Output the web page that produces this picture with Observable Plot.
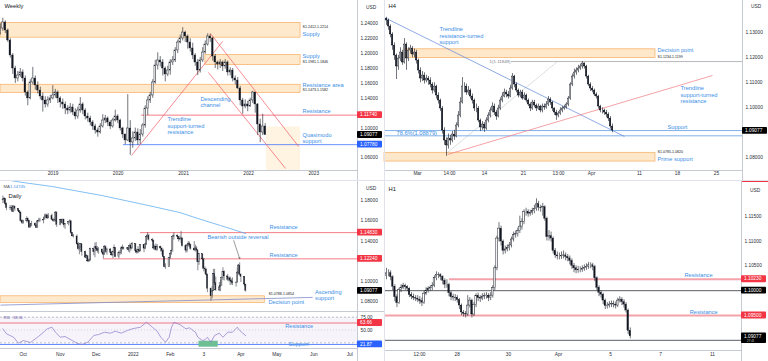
<!DOCTYPE html>
<html><head><meta charset="utf-8">
<script src="https://cdn.jsdelivr.net/npm/d3@7"></script>
<script src="https://cdn.jsdelivr.net/npm/@observablehq/plot@0.6"></script>
<style>
html,body{margin:0;padding:0;background:#fff;}
#root{position:relative;width:768px;height:361px;overflow:hidden;background:#fff;font-family:'Liberation Sans',Arial,sans-serif;}
.pane{position:absolute;overflow:visible;}
.pane svg{display:block;overflow:visible;max-width:none;}
.sep{position:absolute;background:#e0e3eb;}
</style></head><body><div id="root"></div>
<script>
// ================= DATA (prices in pips: 12345 = 1.2345) =================
// ---- Weekly (two-week candles) ----
const wStart = "2018-03-12", wStepDays = 14, wOpen0 = 12290;
const wClose = [12337,12418,12310,12176,11975,11800,11666,11706,11747,11666,
 11478,11398,11612,11666,11572,11505,11424,11371,11317,11371,
 11398,11438,11478,11398,11344,11317,11263,11236,11277,11210,
 11156,11236,11317,11236,11156,11129,11075,11022,10968,10941,
 11022,11102,11129,11075,11022,11102,11156,11102,10995,10914,
 10834,10995,10807,10861,10941,10834,10914,11035,11263,11371,
 11438,11612,11840,11908,11881,11800,11720,11773,11881,11908,
 12042,12149,12203,12283,12230,12149,12069,11975,11881,11773,
 11908,12015,12122,12230,12203,11961,11881,11854,11881,11827,
 11881,11747,11773,11666,11639,11532,11371,11290,11317,11290,
 11371,11478,11317,11049,10941,11022,10908];
const wHigh = [12400,12475,12440,12330,12200,12000,11830,11760,11800,11780,
 11700,11500,11650,11815,11700,11620,11550,11470,11420,11420,
 11440,11570,11520,11500,11420,11390,11350,11300,11330,11320,
 11260,11280,11410,11340,11260,11200,11160,11100,11050,11000,
 11060,11180,11170,11150,11100,11130,11240,11180,11120,11010,
 10920,11450,11100,10950,11000,10990,10980,11060,11300,11420,
 11480,11650,11910,12011,11960,11920,11820,11830,11920,11960,
 12080,12180,12250,12349,12300,12250,12200,12140,12000,11920,
 11950,12080,12170,12266,12260,12220,11990,11900,11920,11900,
 11920,11900,11810,11800,11700,11680,11560,11400,11380,11360,
 11400,11495,11480,11330,11120,11185,11060];
const wLow = [12250,12300,12270,12150,11940,11720,11600,11620,11680,11620,
 11430,11300,11380,11580,11510,11460,11380,11215,11270,11280,
 11330,11380,11400,11330,11270,11250,11180,11180,11200,11170,
 11110,11120,11200,11180,11110,11080,11030,10970,10920,10879,
 10920,11000,11060,11020,10980,11000,11080,11060,10960,10860,
 10778,10820,10636,10730,10820,10770,10780,10880,11000,11170,
 11330,11400,11590,11780,11820,11700,11620,11690,11710,11840,
 11880,12000,12130,12170,12150,12060,12020,11920,11830,11704,
 11740,11880,11990,12100,12150,11900,11800,11780,11800,11760,
 11790,11700,11700,11620,11580,11520,11300,11186,11260,11220,
 11280,11330,11200,10900,10806,10900,10900];
const wYearTicks = ["2019-01-01","2020-01-01","2021-01-01","2022-01-01","2023-01-01"];
const wPriceTicks = [1.06,1.10,1.14,1.16,1.18,1.20,1.22,1.24];
const wZones = [
 {d1:"2018-03-13", d2:"2022-10-19", lo:1.2214, hi:1.2412},
 {d1:"2021-05-04", d2:"2022-10-19", lo:1.1846, hi:1.1981},
 {d1:"2018-03-13", d2:"2022-10-19", lo:1.1473, hi:1.1582}];
const wProj = [{d1:"2022-04-11", d2:"2022-10-19", lo:1.0431, hi:1.1015}];
const wResist = [{d1:"2020-05-11", v:1.1174}];
const wSupport = [{d1:"2020-01-31", v:1.0778}];
const wTrend = [
 {d1:"2021-06-01", v1:1.2270, d2:"2022-10-08", v2:1.0753},
 {d1:"2021-05-21", v1:1.1747, d2:"2022-07-27", v2:1.0458},
 {d1:"2020-03-16", v1:1.0632, d2:"2021-08-08", v2:1.2163}];
const wLabels = [
 {d:"2022-10-30", v:1.2270, t:"Supply"},
 {d:"2022-10-30", v:1.1975, t:"Supply"},
 {d:"2022-10-30", v:1.1585, t:"Resistance area"},
 {d:"2022-10-30", v:1.1230, t:"Resistance"},
 {d:"2022-10-30", v:1.0864, t:"Quasimodo\nsupport"},
 {d:"2021-04-06", v:1.1354, t:"Descending\nchannel"},
 {d:"2020-10-03", v:1.1035, t:"Trendline\nsupport-turned\nresistance"}];
const wRanges = [
 {d:"2022-10-30", v:1.2364, t:"S1.2412-1.2214"},
 {d:"2022-10-30", v:1.1894, t:"S1.1981-1.1846"},
 {d:"2022-10-30", v:1.1512, t:"S1.1473-1.1582"}];
const wTags = [{v:1.1174, bg:"#f23645", t:"1.11740"},{v:1.09077, bg:"#000", t:"1.09077"},{v:1.0778, bg:"#2962ff", t:"1.07780"}];

// ---- H4 (candle index) ----
const h4Open0 = 11357;
const h4Close = [11349,11325,11293,11249,11209,11165,11197,11221,11181,11253,
 11197,11229,11237,11213,11221,11189,11149,11117,11129,11109,
 11117,11109,11093,11069,11085,11049,11029,10997,10909,10869,
 10849,10877,10869,10893,10885,10929,10969,11021,11085,11085,
 11061,11069,11045,11029,10997,10997,10949,10921,10933,10917,
 10949,10969,10989,11005,10981,10965,10997,11029,11045,11061,
 11053,11045,11077,11125,11093,11069,11049,11061,11037,11049,
 11029,11013,10997,11021,11009,10997,11005,10989,11005,11001,
 11013,11033,11021,10997,10981,10969,10977,10989,10997,11001,
 11013,11037,11093,11125,11141,11149,11157,11165,11177,11165,
 11125,11093,11077,11069,11053,11045,11005,10989,10989,10981,
 10973,10957,10925,10909];
const h4High = [11362,11355,11332,11300,11260,11215,11210,11240,11230,11277,
 11260,11240,11250,11245,11235,11230,11195,11160,11145,11140,
 11130,11125,11120,11100,11100,11090,11060,11035,11005,10920,
 10880,10895,10890,10905,10910,10940,10985,11040,11121,11100,
 11095,11085,11075,11055,11035,11015,11005,10955,10945,10940,
 10960,10980,11000,11020,11015,10990,11010,11040,11060,11075,
 11070,11065,11090,11137,11130,11100,11075,11070,11070,11060,
 11055,11035,11020,11030,11030,11015,11015,11010,11015,11015,
 11025,11045,11040,11025,11000,10990,10985,11000,11005,11010,
 11020,11045,11100,11135,11155,11160,11170,11175,11185,11180,
 11170,11130,11100,11085,11075,11060,11050,11010,11000,10995,
 10990,10980,10965,10935];
const h4Low = [11330,11310,11280,11230,11190,11113,11150,11185,11170,11175,
 11150,11185,11215,11200,11200,11175,11135,11100,11105,11095,
 11100,11090,11080,11055,11060,11035,11015,10985,10895,10850,
 10806,10835,10850,10860,10870,10880,10920,10960,11015,11060,
 11050,11050,11035,11015,10985,10980,10940,10905,10910,10902,
 10910,10940,10960,10980,10970,10950,10960,10990,11020,11040,
 11040,11035,11040,11070,11080,11060,11040,11040,11030,11030,
 11020,11005,10985,10990,11000,10985,10990,10980,10980,10990,
 10995,11005,11010,10985,10970,10950,10960,10970,10980,10990,
 10995,11005,11030,11085,11115,11130,11140,11150,11155,11155,
 11115,11085,11065,11060,11045,11035,10995,10980,10975,10970,
 10960,10945,10915,10900];
const h4TickPos = [15.5,31.5,49,68.5,86,102.5,126.5,145.5,165];
const h4TickLab = ["Mar","14:00","14","21","13:00","Apr","11","18","25"];
const h4PriceTicks = [1.08,1.10,1.11,1.12,1.13];
const h4Zones = [{i1:9, i2:134.5, lo:1.1199, hi:1.1234},{i1:-1, i2:134.5, lo:1.0785, hi:1.0820}];
const h4Fib1 = [{i1:62.5, v:1.11849}];
const h4BlueLevels = [1.0909, 1.08879];
const h4Dotted = [{i1:30.5, v1:1.08212, i2:85.5, v2:1.11852}];
const h4BlueTrend = [{i1:0, v1:1.13572, i2:119, v2:1.08852}];
const h4RedTrend = [{i1:30.5, v1:1.08132, i2:163, v2:1.11292}];
const h4Labels = [
 {i:26.5, v:1.12884, t:"Trendline\nresistance-turned\nsupport"},
 {i:135.5, v:1.12332, t:"Decision point"},
 {i:147, v:1.10524, t:"Trendline\nsupport-turned\nresistance"},
 {i:140.5, v:1.09252, t:"Support"},
 {i:5, v:1.0899, t:"78.6%(1.08879)"},
 {i:135.5, v:1.07972, t:"Prime support"}];
const h4Ranges = [{i:135.5, v:1.12052, t:"S1.1234-1.1199"},{i:135.5, v:1.08252, t:"S1.0785-1.0820"}];
const h4FibLabel = [{i:62, v:1.11849, t:"1(1.11849)"}];
const h4Tags = [{v:1.09077, bg:"#000", t:"1.09077"}];

// ---- Daily ----
const dStart = "2021-09-14", dOpen0 = 11810;
const dClose = [11805,11815,11764,11725,11727,11725,11689,11740,11720,11695,11683,11597,11579,
 11595,11620,11598,11532,11553,11570,11552,11528,11594,11597,11603,11608,11632,11653,11623,11644,11609,11598,11604,11681,11558,
 11607,11580,11612,11556,11567,11587,11594,11479,11446,11445,11368,11319,11319,11370,11289,11236,11250,11198,11208,11320,11290,11338,
 11320,11303,11316,11286,11266,11345,11291,11317,11285,11258,11290,11330,11240,11280,11282,11327,11330,11322,11328,11310,11350,11325,11370,
 11299,11286,11314,11297,11359,11325,11367,11440,11454,11412,11404,11326,11344,11313,11344,11326,11302,11242,11143,11146,11234,
 11272,11302,11440,11454,11441,11416,11422,11426,11349,11305,11356,11374,11362,11321,11307,11327,11310,11190,11270,11219,
 11126,11119,11066,10929,10855,10903,11073,10985,10912,10942,10956,11037,11093,11051,11016,11031,11008,10996,10983,10985,11088,11158,11066,
 11046,10970,10908];
const dHigh = [11845,11830,11820,11775,11750,11750,11750,11750,11745,11715,11700,11685,11610,
 11605,11640,11625,11605,11570,11595,11580,11565,11600,11625,11625,11625,11665,11665,11665,11670,11665,11625,11610,11690,11690,
 11615,11610,11615,11615,11570,11595,11610,11600,11485,11465,11460,11385,11350,11375,11370,11300,11265,11255,11225,11330,11320,11380,
 11385,11345,11335,11320,11300,11355,11350,11330,11325,11295,11300,11360,11335,11300,11305,11345,11360,11340,11335,11340,11370,11370,11385,
 11375,11320,11345,11320,11365,11365,11370,11450,11482,11465,11425,11410,11360,11370,11365,11350,11330,11320,11245,11175,11240,
 11285,11310,11455,11480,11460,11445,11450,11495,11430,11365,11365,11395,11390,11370,11395,11360,11345,11310,11275,11270,
 11230,11145,11125,11075,10935,10950,11120,11121,11045,10990,11010,11045,11137,11105,11070,11045,11045,11025,11035,11000,11137,11170,11185,
 11075,11050,10975];
const dLow = [11770,11775,11750,11700,11700,11705,11685,11680,11695,11680,11670,11590,11565,
 11565,11580,11580,11530,11530,11540,11545,11525,11525,11580,11585,11570,11605,11620,11615,11620,11600,11585,11585,11590,11535,
 11550,11570,11570,11530,11515,11550,11570,11465,11440,11430,11355,11305,11265,11310,11250,11225,11225,11186,11190,11200,11255,11235,
 11300,11280,11270,11270,11225,11260,11280,11260,11270,11250,11225,11275,11235,11225,11260,11265,11310,11310,11305,11290,11280,11300,11320,
 11280,11270,11275,11285,11295,11285,11315,11355,11430,11400,11385,11310,11305,11300,11300,11290,11260,11235,11135,11121,11140,
 11220,11260,11290,11410,11420,11390,11405,11375,11340,11280,11285,11340,11340,11310,11300,11290,11300,11106,11160,11125,
 11095,11070,11055,10890,10806,10830,10900,10960,10905,10900,10900,10950,11010,11005,11000,10995,10960,10965,10960,10945,10985,11075,11060,
 10990,10950,10895];
const maDates = ["2021-09-12","2021-09-29","2021-10-25","2021-12-06","2022-01-14","2022-02-09","2022-02-25","2022-03-15","2022-04-05"];
const maVals = [1.2014,1.1981,1.1939,1.1849,1.1750,1.1681,1.1619,1.1553,1.14745];
const dMonthTicks = ["2021-10-01","2021-11-01","2021-12-01","2022-01-01","2022-02-01","2022-03-01","2022-04-01","2022-05-01","2022-06-01","2022-07-01"];
const dMonthLabels = ["Oct","Nov","Dec","2022","Feb","3","Apr","May","Jun","Jul"];
const dPriceTicks = [1.08,1.10,1.14,1.16,1.18];
const dResist = [{d1:"2022-01-07", v:1.1483},{d1:"2021-12-07", v:1.1224}];
const dZone = [{d1:"2021-09-12", d2:"2022-04-21", lo:1.0788, hi:1.0854}];
const dAsc = [{d1:"2021-09-12", v1:1.0767, d2:"2022-05-31", v2:1.0843}];
const dArrow = [{d1:"2022-03-26", v1:1.1404, d2:"2022-03-31", v2:1.1226}];
const dLabels = [
 {d:"2022-04-25", v:1.1536, t:"Resistance"},
 {d:"2022-04-25", v:1.1265, t:"Resistance"},
 {d:"2022-03-04", v:1.1437, t:"Bearish outside reversal"},
 {d:"2022-04-24", v:1.0803, t:"Decision point"},
 {d:"2022-06-02", v:1.0867, t:"Ascending\nsupport"}];
const dRanges = [{d:"2022-04-24", v:1.0879, t:"S1.0788-1.0854"}];
const dTags = [{v:1.1483, bg:"#f23645", t:"1.14830"},{v:1.1224, bg:"#f23645", t:"1.12240"},{v:1.09077, bg:"#000", t:"1.09077"}];
// RSI
const rsiDates = ["2021-09-14","2021-09-17","2021-09-23","2021-09-27","2021-10-01","2021-10-07","2021-10-13","2021-10-18","2021-10-21","2021-10-25",
 "2021-10-28","2021-11-01","2021-11-05","2021-11-11","2021-11-15","2021-11-19","2021-11-24","2021-11-29","2021-12-03","2021-12-08",
 "2021-12-13","2021-12-17","2021-12-22","2021-12-27","2021-12-31","2022-01-07","2022-01-12","2022-01-17","2022-01-21","2022-01-24",
 "2022-01-28","2022-01-31","2022-02-02","2022-02-04","2022-02-09","2022-02-14","2022-02-17","2022-02-22","2022-02-24","2022-02-28",
 "2022-03-02","2022-03-04","2022-03-07","2022-03-10","2022-03-14","2022-03-17","2022-03-21","2022-03-25","2022-03-29","2022-03-31","2022-04-05"];
const rsiVals = [52.3,42.6,35.9,24.2,29.5,25.6,35.9,45.7,52.3,55.5,
 45.7,35.9,37.3,29.5,24.2,21.7,26.2,39.3,41.2,45.7,
 43.8,47.7,43.8,49.0,52.3,55.5,65.2,55.5,47.7,35.9,
 26.2,35.9,55.5,65.2,60.7,52.3,54.3,45.7,35.9,29.5,
 30.9,35.9,26.2,39.3,43.8,35.9,45.7,45.7,55.5,49.0,38.96];
const rsiRes = 63.66, rsiSup = 21.87;
const rsiBox = [{d1:"2022-02-25", d2:"2022-03-13", lo:16.4, hi:28.1}];
const rsiLabels = [{d:"2022-05-08", v:58.8, t:"Resistance"},{d:"2022-05-11", v:23.0, t:"Support"}];
const rsiTicks = [50, 75];
const rsiTags = [{v:63.66, bg:"#f23645", t:"63.66"},{v:21.87, bg:"#2962ff", t:"21.87"}];

// ---- H1 (two-hour steps) ----
const h1Open0 = 11030;
const h1Close = [11035,11035,11027,11008,10987,10975,11001,11006,11009,11007,
 11004,10991,10988,10985,10984,10982,10979,10976,10994,11000,
 11003,11005,11010,11025,11032,11031,11028,11020,11012,11012,
 10995,10987,10986,10985,10981,10970,10956,10953,10952,10970,
 10980,10952,10971,10989,10985,10984,10988,10989,10990,10985,
 10990,11005,11045,11105,11125,11099,11080,11083,11086,11091,
 11103,11112,11114,11120,11129,11138,11158,11158,11155,11157,
 11160,11165,11174,11167,11166,11168,11145,11108,11110,11105,
 11080,11071,11069,11069,11070,11071,11068,11065,11060,11050,
 11045,11041,11042,11042,11044,11046,11048,11051,11051,11048,
 11025,11006,10996,10992,10980,10969,10970,10972,10973,10972,
 10970,10980,10982,10977,10972,10960,10919,10908];
const h1High = [11045,11042,11040,11030,11012,10992,11005,11012,11015,11013,
 11010,11006,10996,10993,10990,10990,10988,10985,10998,11006,
 11008,11010,11016,11030,11038,11036,11034,11030,11024,11022,
 11015,10998,10993,10992,10990,10984,10973,10960,10958,10990,
 10986,10983,10976,10994,10995,10990,10994,10995,10996,10994,
 10996,11010,11050,11110,11137,11130,11102,11090,11092,11097,
 11108,11118,11120,11126,11150,11145,11163,11166,11163,11162,
 11166,11172,11185,11180,11172,11176,11171,11148,11121,11118,
 11108,11085,11078,11076,11078,11080,11076,11073,11070,11064,
 11055,11050,11049,11048,11050,11052,11054,11057,11056,11055,
 11051,11028,11010,11000,10995,10983,10976,10978,10979,10979,
 10977,10985,10988,10986,10982,10976,10963,10925];
const h1Low = [11022,11028,11020,11000,10978,10966,10972,10996,11002,11000,
 10998,10986,10982,10980,10978,10976,10972,10968,10972,10990,
 10995,10998,11000,11006,11020,11024,11020,11012,11004,11005,
 10988,10980,10979,10978,10975,10962,10950,10947,10945,10948,
 10965,10945,10948,10966,10978,10976,10980,10982,10983,10978,
 10980,10985,11000,11040,11098,11090,11072,11074,11078,11080,
 11086,11098,11106,11108,11115,11122,11133,11150,11148,11150,
 11152,11155,11160,11160,11158,11150,11140,11100,11100,11098,
 11074,11065,11062,11062,11063,11064,11060,11058,11052,11043,
 11036,11034,11035,11036,11037,11039,11041,11043,11044,11040,
 11018,11000,10988,10985,10972,10962,10963,10965,10966,10965,
 10963,10966,10975,10970,10965,10955,10912,10903];
const h1TickPos = [15.84,33.94,58.57,82.57,107.5,131.5,156.5];
const h1TickLab = ["12:00","28","30","Apr","5","7","11"];
const h1PriceTicks = [1.105,1.11,1.115];
const h1Res = [{i1:30.2, v:1.1023},{i1:-0.96, v:1.0950}];
const h1Round = [1.1000, 1.0900];
const h1Labels = [{i:143, v:1.10326, t:"Resistance"},{i:145.5, v:1.09581, t:"Resistance"}];
const h1Tags = [{v:1.1023, bg:"#f23645", t:"1.10230"},{v:1.1, bg:"#000", t:"1.10000"},{v:1.095, bg:"#f23645", t:"1.09500"},{v:1.09077, bg:"#000", t:"1.09077", sub:"27:41"}];

// ================= RENDER =================
const FONT = "'Liberation Sans', Arial, sans-serif";
const INK = "#131722", AX = "#2a2e39", BLUE = "#3a8ee6", RED = "#f05a66";
const ZF = "#ffe3c0", ZS = "#f6ad60", GRID = "#b8bcc6";
const D = s => new Date(s);
const root = document.getElementById("root");
const baseStyle = {fontFamily: FONT, background: "transparent", color: AX, overflow: "visible"};

function place(node, left, top, w, h) {
  const div = document.createElement("div");
  div.className = "pane";
  Object.assign(div.style, {left: left + "px", top: top + "px", width: w + "px", height: h + "px"});
  div.appendChild(node); root.appendChild(div);
}
function mkCandles(xs, open0, cl, hi, lo) {
  return cl.map((c, i) => ({x: xs[i], o: (i ? cl[i - 1] : open0) / 1e4, c: c / 1e4, h: hi[i] / 1e4, l: lo[i] / 1e4}));
}
function candleMarks(data, x1, x2, ww) {
  const up = data.filter(d => d.c >= d.o), dn = data.filter(d => d.c < d.o);
  return [
    Plot.ruleX(data, {x: "x", y1: "l", y2: "h", stroke: INK, strokeWidth: ww}),
    Plot.rect(dn, {x1, x2, y1: "o", y2: "c", fill: INK, stroke: INK, strokeWidth: 0.3}),
    Plot.rect(up, {x1, x2, y1: "o", y2: "c", fill: "#fff", stroke: INK, strokeWidth: 0.45})
  ];
}
function chrome(svg, axisX, h, bottomY) {
  const s = d3.select(svg);
  s.append("line").attr("x1", axisX).attr("x2", axisX).attr("y1", 0).attr("y2", h).attr("stroke", GRID).attr("stroke-width", 0.8);
  if (bottomY != null) s.append("line").attr("x1", 0).attr("x2", axisX).attr("y1", bottomY).attr("y2", bottomY).attr("stroke", GRID).attr("stroke-width", 0.8);
}
function addTags(plot, list, left) {
  const y = plot.scale("y");
  const g = d3.select(plot).append("g").attr("font-size", 4.8).attr("font-family", FONT).attr("text-anchor", "start");
  for (const t of list) {
    const yy = y.apply(t.v);
    const h = t.sub ? 10.5 : 6.8;
    g.append("rect").attr("x", left).attr("y", yy - 3.4).attr("width", 25).attr("height", h).attr("fill", t.bg).attr("rx", 0.8);
    g.append("text").attr("x", left + 3).attr("y", yy).attr("dy", "0.35em").attr("text-anchor", "start").attr("fill", "#fff").text(t.t);
    if (t.sub) g.append("text").attr("x", left + 6).attr("y", yy + 4.6).attr("dy", "0.35em").attr("text-anchor", "start").attr("fill", "#ccc").attr("font-size", 3).text(t.sub);
  }
}
function usd(plot, x, y) {
  d3.select(plot).append("text").attr("x", x).attr("y", y).attr("dy", "0.35em").attr("text-anchor", "start")
    .attr("font-size", 4.8).attr("fill", AX).attr("font-family", FONT).text("USD");
}
const lab = o => Object.assign({textAnchor: "start", lineAnchor: "middle", fontSize: 5.7, fill: BLUE, lineHeight: 1.12}, o);
const rng = o => Object.assign({textAnchor: "start", lineAnchor: "middle", fontSize: 3.6, fill: INK}, o);
const yAxis = (ticks, fmt) => Plot.axisY({ticks, anchor: "right", tickFormat: fmt, tickSize: 0, tickPadding: 3, fontSize: 4.8, fill: AX, label: null});

// ---------- Weekly ----------
{
  const X0 = D("2018-03-13"), X1 = D("2023-09-03");
  const dates = wClose.map((_, i) => d3.utcDay.offset(D(wStart), i * wStepDays));
  const data = mkCandles(dates, wOpen0, wClose, wHigh, wLow);
  const hw = 4.5 * 864e5;
  const p = Plot.plot({
    width: 384, height: 180, marginLeft: 0, marginRight: 27, marginTop: 0, marginBottom: 10,
    style: baseStyle,
    x: {type: "utc", domain: [X0, X1], label: null},
    y: {domain: [1.0431, 1.2713], label: null},
    marks: [
      Plot.rect(wProj, {x1: d => D(d.d1), x2: d => D(d.d2), y1: "lo", y2: "hi", fill: "#fff4e2"}),
      Plot.rect(wZones, {x1: d => D(d.d1), x2: d => D(d.d2), y1: "lo", y2: "hi", fill: ZF, fillOpacity: 0.8, stroke: ZS, strokeWidth: 0.7}),
      Plot.ruleY(wResist, {y: "v", x1: d => D(d.d1), x2: () => X1, stroke: RED, strokeWidth: 0.8}),
      Plot.ruleY(wSupport, {y: "v", x1: d => D(d.d1), x2: () => X1, stroke: "#2962ff", strokeWidth: 0.7}),
      Plot.link(wTrend, {x1: d => D(d.d1), y1: "v1", x2: d => D(d.d2), y2: "v2", stroke: RED, strokeWidth: 0.7}),
      ...candleMarks(data, d => new Date(+d.x - hw), d => new Date(+d.x + hw), 0.6),
      Plot.text(wLabels, lab({x: d => D(d.d), y: "v", text: "t"})),
      Plot.text(wRanges, rng({x: d => D(d.d), y: "v", text: "t"})),
      Plot.text(["Weekly"], {text: d => d, frameAnchor: "top-left", dx: 4, dy: 3.5, lineAnchor: "top", textAnchor: "start", fontSize: 5.8, fill: INK}),
      yAxis(wPriceTicks, d => d.toFixed(5)),
      Plot.axisX({ticks: wYearTicks.map(D), tickFormat: d3.utcFormat("%Y"), tickSize: 0, tickPadding: 1.5, fontSize: 4.8, fill: AX, label: null})
    ]
  });
  chrome(p, 357.5, 180, 170.5);
  addTags(p, wTags, 357);
  usd(p, 366, 7);
  place(p, 0, 0, 384, 180);
}

// ---------- H4 ----------
{
  const X1 = 178;
  const data = mkCandles(h4Close.map((_, i) => i), h4Open0, h4Close, h4High, h4Low);
  const p = Plot.plot({
    width: 384, height: 180, marginLeft: 0, marginRight: 26, marginTop: 0, marginBottom: 10,
    style: baseStyle,
    x: {domain: [-1, X1], label: null},
    y: {domain: [1.07492, 1.14292], label: null},
    marks: [
      Plot.rect(h4Zones, {x1: "i1", x2: "i2", y1: "lo", y2: "hi", fill: ZF, fillOpacity: 0.85, stroke: ZS, strokeWidth: 0.7}),
      Plot.ruleY(h4Fib1, {y: "v", x1: "i1", x2: () => X1, stroke: "#9598a1", strokeWidth: 0.7}),
      Plot.ruleY(h4BlueLevels, {y: d => d, stroke: "#4a8fe0", strokeWidth: 0.7}),
      Plot.link(h4Dotted, {x1: "i1", y1: "v1", x2: "i2", y2: "v2", stroke: "#9598a1", strokeWidth: 0.7, strokeDasharray: "1.2,1.4"}),
      Plot.link(h4BlueTrend, {x1: "i1", y1: "v1", x2: "i2", y2: "v2", stroke: "#5f86d8", strokeWidth: 0.7}),
      Plot.link(h4RedTrend, {x1: "i1", y1: "v1", x2: "i2", y2: "v2", stroke: "#f07a80", strokeWidth: 0.7}),
      ...candleMarks(data, d => d.x - 0.36, d => d.x + 0.36, 0.6),
      Plot.text(h4Labels, lab({x: "i", y: "v", text: "t"})),
      Plot.text(h4Ranges, rng({x: "i", y: "v", text: "t"})),
      Plot.text(h4FibLabel, {x: "i", y: "v", text: "t", textAnchor: "end", lineAnchor: "middle", fontSize: 4.4, fill: "#787b86"}),
      Plot.text(["H4"], {text: d => d, frameAnchor: "top-left", dx: 4, dy: 3.5, lineAnchor: "top", textAnchor: "start", fontSize: 5.8, fill: INK}),
      yAxis(h4PriceTicks, d => d.toFixed(5)),
      Plot.axisX({ticks: h4TickPos, tickFormat: d => h4TickLab[h4TickPos.indexOf(d)], tickSize: 0, tickPadding: 1.5, fontSize: 4.8, fill: AX, label: null})
    ]
  });
  chrome(p, 358.5, 180, 170.5);
  addTags(p, h4Tags, 358);
  usd(p, 367, 6.5);
  place(p, 384, 0, 384, 180);
}

// ---------- Daily (main + RSI) ----------
const dX0 = D("2021-09-12T00:00Z"), dX1 = D("2022-07-07T12:00Z");
{
  const dates = [];
  for (let t = D(dStart); dates.length < dClose.length; t = d3.utcDay.offset(t, 1)) {
    const wd = t.getUTCDay(); if (wd !== 0 && wd !== 6) dates.push(t);
  }
  const data = mkCandles(dates, dOpen0, dClose, dHigh, dLow);
  const hw = 0.42 * 864e5;
  const ma = maDates.map((d, i) => ({d: D(d), v: maVals[i]}));
  const p = Plot.plot({
    width: 384, height: 132, marginLeft: 0, marginRight: 27, marginTop: 0, marginBottom: 0,
    style: baseStyle,
    x: {type: "utc", domain: [dX0, dX1], axis: null, label: null},
    y: {domain: [1.0694, 1.1998], label: null},
    marks: [
      Plot.rect(dZone, {x1: d => D(d.d1), x2: d => D(d.d2), y1: "lo", y2: "hi", fill: ZF, fillOpacity: 0.8, stroke: ZS, strokeWidth: 0.7}),
      Plot.link(dAsc, {x1: d => D(d.d1), y1: "v1", x2: d => D(d.d2), y2: "v2", stroke: "#7f8cc9", strokeWidth: 0.8}),
      Plot.ruleY(dResist, {y: "v", x1: d => D(d.d1), x2: () => dX1, stroke: RED, strokeWidth: 0.8}),
      Plot.line(ma, {x: "d", y: "v", stroke: "#64aef0", strokeWidth: 0.8, clip: true}),
      ...candleMarks(data, d => new Date(+d.x - hw), d => new Date(+d.x + hw), 0.5),
      Plot.arrow(dArrow, {x1: d => D(d.d1), y1: "v1", x2: d => D(d.d2), y2: "v2", stroke: "#555", strokeWidth: 0.6, headLength: 3, bend: 0}),
      Plot.text(dLabels, lab({x: d => D(d.d), y: "v", text: "t"})),
      Plot.text(dRanges, rng({x: d => D(d.d), y: "v", text: "t"})),
      Plot.text(["MA"], {text: d => d, frameAnchor: "top-left", dx: 3, dy: 5, lineAnchor: "top", textAnchor: "start", fontSize: 4.2, fill: "#555"}),
      Plot.text(["1.14745"], {text: d => d, frameAnchor: "top-left", dx: 9.5, dy: 5, lineAnchor: "top", textAnchor: "start", fontSize: 4.2, fill: BLUE}),
      Plot.text(["Daily"], {text: d => d, frameAnchor: "top-left", dx: 8, dy: 13, lineAnchor: "top", textAnchor: "start", fontSize: 5.8, fill: INK}),
      yAxis(dPriceTicks, d => d.toFixed(5))
    ]
  });
  chrome(p, 357.5, 132, 131.5);
  d3.select(p).append("line").attr("x1", 357.5).attr("x2", 384).attr("y1", 131.5).attr("y2", 131.5).attr("stroke", GRID).attr("stroke-width", 0.8);
  addTags(p, dTags, 357);
  usd(p, 366, 8.3);
  place(p, 0, 180, 384, 132);
}
{
  const rsi = rsiDates.map((d, i) => ({d: D(d), v: rsiVals[i]}));
  const p = Plot.plot({
    width: 384, height: 49, marginLeft: 0, marginRight: 27, marginTop: 0, marginBottom: 13,
    style: baseStyle,
    x: {type: "utc", domain: [dX0, dX1], label: null},
    y: {domain: [13.9, 84.2], label: null},
    marks: [
      Plot.rect([{lo: 25, hi: 75}], {x1: () => dX0, x2: () => dX1, y1: "lo", y2: "hi", fill: "#7e57c2", fillOpacity: 0.07}),
      Plot.ruleY([75, 25], {y: d => d, stroke: "#9598a1", strokeWidth: 0.6, strokeDasharray: "2,2"}),
      Plot.ruleY([50], {y: d => d, stroke: "#b2b5be", strokeWidth: 0.5, strokeDasharray: "1,2"}),
      Plot.ruleY([rsiRes], {y: d => d, stroke: RED, strokeWidth: 0.8}),
      Plot.ruleY([rsiSup], {y: d => d, stroke: "#2962ff", strokeWidth: 0.8}),
      Plot.rect(rsiBox, {x1: d => D(d.d1), x2: d => D(d.d2), y1: "lo", y2: "hi", fill: "#6fbf94"}),
      Plot.line(rsi, {x: "d", y: "v", stroke: "#8c78c8", strokeWidth: 0.7}),
      Plot.text(rsiLabels, lab({x: d => D(d.d), y: "v", text: "t"})),
      Plot.text(["RSI · 38.96"], {text: d => d, frameAnchor: "top-left", dx: 3, dy: 3.5, lineAnchor: "top", textAnchor: "start", fontSize: 3.8, fill: "#6a5aa8"}),
      yAxis(rsiTicks, d => d.toFixed(2)),
      Plot.axisX({ticks: dMonthTicks.map(D), tickFormat: d => dMonthLabels[dMonthTicks.findIndex(s => +D(s) === +d)], tickSize: 0, tickPadding: 4, fontSize: 4.8, fill: AX, label: null})
    ]
  });
  chrome(p, 357.5, 49, 36.5);
  addTags(p, rsiTags, 357);
  place(p, 0, 312, 384, 49);
}

// ---------- H1 ----------
{
  const X1 = 170.4;
  const data = mkCandles(h1Close.map((_, i) => i), h1Open0, h1Close, h1High, h1Low);
  const p = Plot.plot({
    width: 384, height: 181, marginLeft: 0, marginRight: 27, marginTop: 0, marginBottom: 11,
    style: baseStyle,
    x: {domain: [-0.96, X1], label: null},
    y: {domain: [1.08795, 1.12219], label: null},
    marks: [
      Plot.ruleY(h1Res, {y: "v", x1: "i1", x2: () => X1, stroke: "#f4a3aa", strokeWidth: 1.8}),
      Plot.ruleY(h1Round, {y: d => d, stroke: INK, strokeWidth: 0.7}),
      ...candleMarks(data, d => d.x - 0.36, d => d.x + 0.36, 0.6),
      Plot.text(h1Labels, lab({x: "i", y: "v", text: "t"})),
      Plot.text(["H1"], {text: d => d, frameAnchor: "top-left", dx: 4, dy: 6.5, lineAnchor: "top", textAnchor: "start", fontSize: 5.8, fill: INK}),
      yAxis(h1PriceTicks, d => d.toFixed(5)),
      Plot.axisX({ticks: h1TickPos, tickFormat: d => h1TickLab[h1TickPos.indexOf(d)], tickSize: 0, tickPadding: 2.5, fontSize: 4.8, fill: AX, label: null})
    ]
  });
  chrome(p, 357.5, 181, 170.5);
  d3.select(p).append("line").attr("x1", 358).attr("x2", 384).attr("y1", 1.5).attr("y2", 1.5).attr("stroke", "#f23645").attr("stroke-width", 1);
  addTags(p, h1Tags, 357);
  usd(p, 366, 10);
  place(p, 384, 180, 384, 181);
}

// panel separators
for (const s of [{l:384,t:0,w:1,h:361},{l:0,t:180,w:768,h:1}]) {
  const d = document.createElement("div"); d.className = "sep";
  Object.assign(d.style, {left: s.l + "px", top: s.t + "px", width: s.w + "px", height: s.h + "px"});
  root.appendChild(d);
}
</script></body></html>
